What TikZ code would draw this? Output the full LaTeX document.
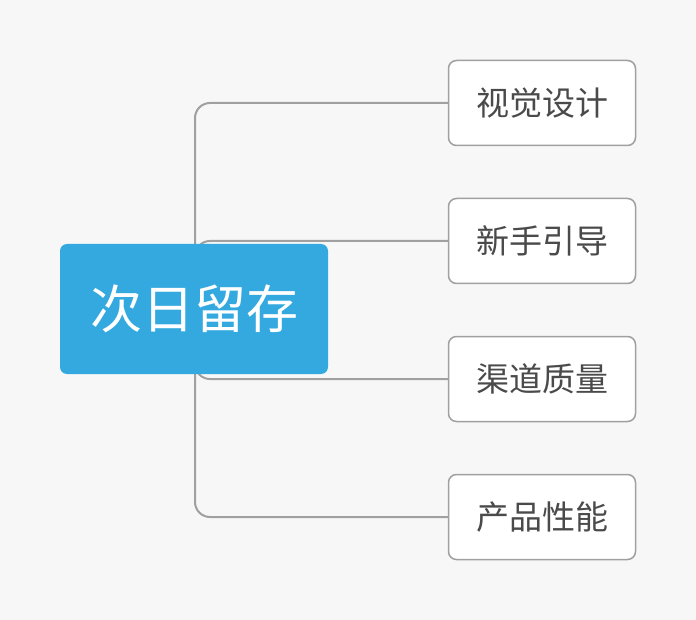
\documentclass[tikz,border=0pt]{standalone}
\usepackage{fontspec}
\newfontfamily\cjk{Noto Sans CJK SC}
\definecolor{bgc}{HTML}{F7F7F7}
\definecolor{rootc}{HTML}{33A9E0}
\definecolor{linec}{HTML}{A0A0A0}
\definecolor{txtc}{HTML}{4A4A4A}
\begin{document}
\begin{tikzpicture}[x=1pt,y=-1pt,
  rootbox/.style={fill=rootc, rounded corners=7pt, minimum width=268pt, minimum height=130pt, inner sep=0pt, text=white, font=\cjk\fontsize{52}{60}\selectfont},
  leafbox/.style={draw=linec, line width=1.5pt, fill=white, rounded corners=8pt, minimum width=187pt, minimum height=85pt, inner sep=0pt, text=txtc, font=\cjk\fontsize{33}{40}\selectfont},
  conn/.style={draw=linec, line width=2pt, rounded corners=15pt}]
\fill[bgc] (0,0) rectangle (696,620);
\useasboundingbox (0,0) rectangle (696,620);
\coordinate (hub) at (195,309);
\node[leafbox] (c1) at (542,103) {视觉设计};
\node[leafbox] (c2) at (542,241) {新手引导};
\node[leafbox] (c3) at (542,379) {渠道质量};
\node[leafbox] (c4) at (542,517) {产品性能};
\draw[conn] (hub) |- (c1.west);
\draw[conn] (hub) |- (c2.west);
\draw[conn] (hub) |- (c3.west);
\draw[conn] (hub) |- (c4.west);
\node[rootbox] (root) at (194,309) {次日留存};
\end{tikzpicture}
\end{document}
